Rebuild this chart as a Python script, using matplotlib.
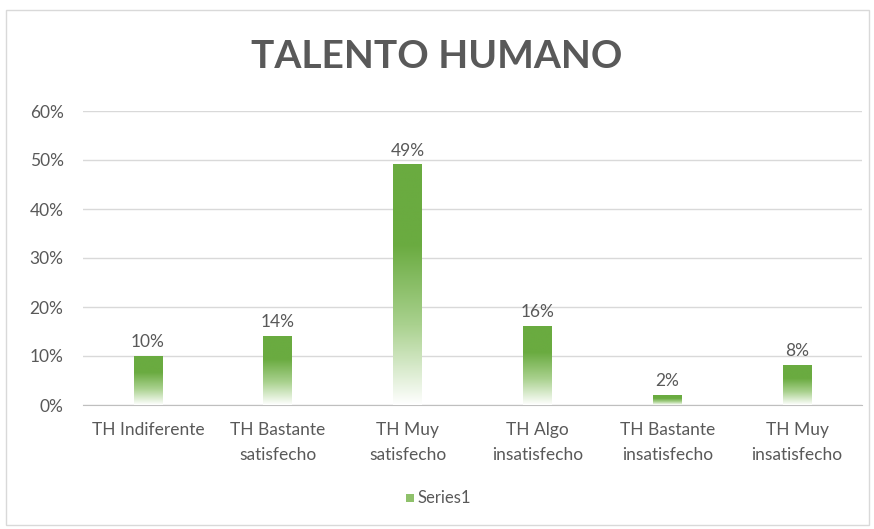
import numpy as np
import matplotlib
matplotlib.use("Agg")
import matplotlib.pyplot as plt
from matplotlib.colors import LinearSegmentedColormap
from matplotlib.patches import Rectangle

plt.rcParams['font.family'] = ['Lato', 'DejaVu Sans']

categories = ["TH Indiferente", "TH Bastante\nsatisfecho", "TH Muy\nsatisfecho",
              "TH Algo\ninsatisfecho", "TH Bastante\ninsatisfecho", "TH Muy\ninsatisfecho"]
values = [0.10, 0.14, 0.49, 0.16, 0.02, 0.08]
labels = ["10%", "14%", "49%", "16%", "2%", "8%"]
yticks = [0, 0.1, 0.2, 0.3, 0.4, 0.5, 0.6]

grey = "#595959"
green = "#6aab40"
cmap = LinearSegmentedColormap.from_list("g", ["#ffffff", "#a9d18e", green, green])

fig = plt.figure(figsize=(8.74, 5.29), dpi=100)
# outer chart border
fig.patches.append(Rectangle((6/874, 4/529), 863/874, 515/529, transform=fig.transFigure,
                             fill=False, edgecolor="#d9d9d9", linewidth=1))

ax = fig.add_axes([83/874, 1 - 405/529, 779/874, 294/529])
x = np.arange(len(values))
w = 0.22
grad = np.linspace(0, 1, 256).reshape(-1, 1)
for xi, v, lab in zip(x, values, labels):
    ax.imshow(grad, extent=[xi - w/2, xi + w/2, 0, v], origin="lower",
              cmap=cmap, aspect="auto", zorder=3)
    ax.text(xi, v + 0.013, lab, ha="center", va="bottom", fontsize=12.5, color=grey)

ax.set_xlim(-0.5, len(values) - 0.5)
ax.set_ylim(0, 0.6)
ax.set_yticks(yticks)
ax.set_yticklabels([f"{int(round(t*100))}%" for t in yticks], fontsize=12.5, color=grey)
ax.set_xticks(x)
ax.set_xticklabels(categories, fontsize=12.5, color=grey, linespacing=1.7)
ax.tick_params(length=0)
ax.tick_params(axis="x", pad=12)
ax.tick_params(axis="y", pad=14)
ax.grid(axis="y", color="#d9d9d9", linewidth=1, zorder=0)
for s in ["top", "right", "left"]:
    ax.spines[s].set_visible(False)
ax.spines["bottom"].set_color("#bfbfbf")

fig.text(0.5, 1 - 57/529, "TALENTO HUMANO", ha="center", va="center",
         fontsize=28, fontweight="bold", color=grey)

# legend
fig.patches.append(Rectangle((406/874, 1 - 502/529), 8/874, 8/529, transform=fig.transFigure,
                             facecolor="#8fc16b", edgecolor="none"))
fig.text(418/874, 1 - 498/529, "Series1", ha="left", va="center", fontsize=12, color=grey)

fig.savefig("out.png", dpi=100)
